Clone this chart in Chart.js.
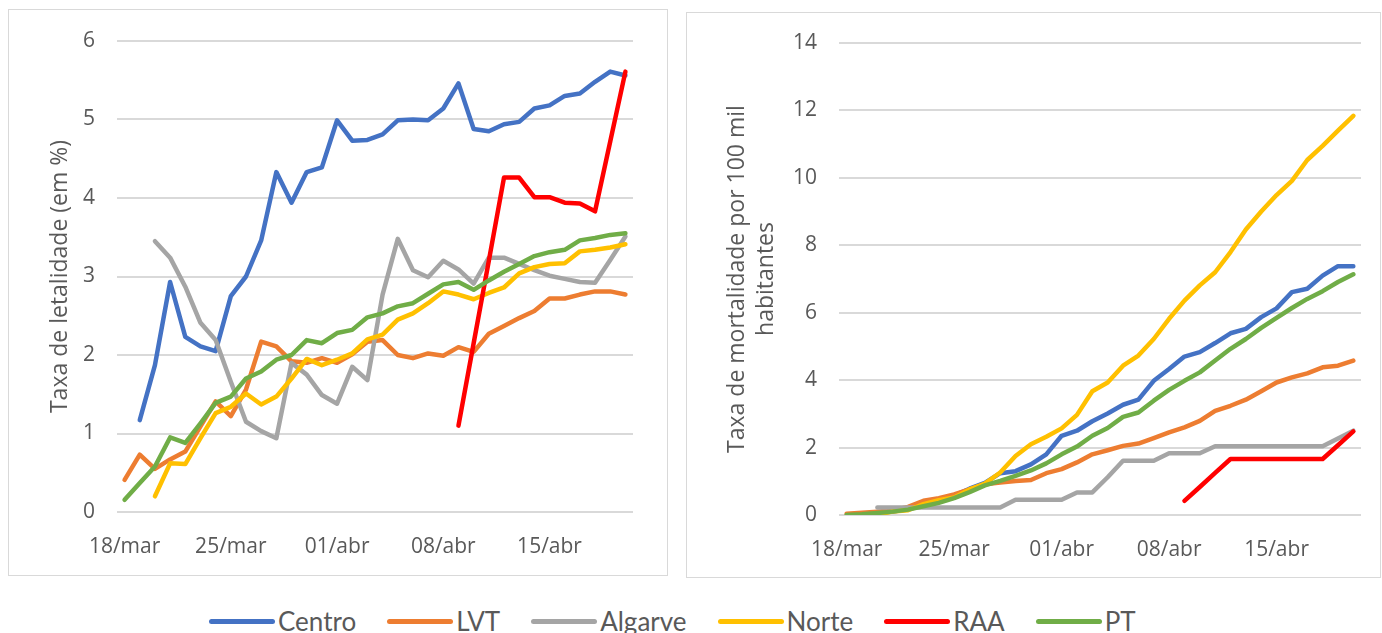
<!DOCTYPE html>
<html>
<head>
<meta charset="utf-8">
<script src="https://cdn.jsdelivr.net/npm/chart.js@4.4.1/dist/chart.umd.min.js"></script>
<style>
  html, body { margin: 0; padding: 0; background: #fff; }
  body { width: 1382px; height: 633px; position: relative; overflow: hidden; font-family: 'Open Sans', sans-serif; }
  .panel { position: absolute; border: 1px solid #d9d9d9; box-sizing: border-box; background: #fff; }
  .panel canvas { display: block; }
  #legend { position: absolute; left: 209px; top: 605px; display: flex; align-items: center; gap: 31px;
            font-family: Lato, 'Liberation Sans', sans-serif; font-size: 26px; color: #595959; white-space: nowrap; }
  .item { display: flex; align-items: center; }
  .swatch { width: 66px; height: 5px; border-radius: 3px; margin-right: 3px; }
</style>
</head>
<body>
<div class="panel" style="left:8px; top:9px; width:660px; height:567px;">
  <canvas id="letalidade" width="658" height="565"></canvas>
</div>
<div class="panel" style="left:686px; top:12px; width:695px; height:566px;">
  <canvas id="mortalidade" width="693" height="564"></canvas>
</div>
<div id="legend"></div>

<script>
const days = ['18/mar', '19/mar', '20/mar', '21/mar', '22/mar', '23/mar', '24/mar', '25/mar', '26/mar', '27/mar',
    '28/mar', '29/mar', '30/mar', '31/mar', '01/abr', '02/abr', '03/abr', '04/abr', '05/abr', '06/abr',
    '07/abr', '08/abr', '09/abr', '10/abr', '11/abr', '12/abr', '13/abr', '14/abr', '15/abr', '16/abr',
    '17/abr', '18/abr', '19/abr', '20/abr'];
const tickDays = ['18/mar', '25/mar', '01/abr', '08/abr', '15/abr'];

const seriesNames = ['Centro', 'LVT', 'Algarve', 'Norte', 'RAA', 'PT'];
const seriesColors = ['#4472C4', '#ED7D31', '#A5A5A5', '#FFC000', '#FF0000', '#70AD47'];

// Taxa de letalidade (em %)
const centroLet = [null, 1.17, 1.87, 2.93, 2.23, 2.11, 2.05, 2.75, 3.0, 3.46, 4.33, 3.94, 4.33, 4.39, 4.99, 4.73, 4.74,
    4.81, 4.99, 5.0, 4.99, 5.14, 5.46, 4.88, 4.85, 4.94, 4.97, 5.14, 5.18, 5.30, 5.33, 5.48, 5.61, 5.56];
const lvtLet = [0.41, 0.73, 0.55, 0.67, 0.77, 1.09, 1.41, 1.22, 1.56, 2.17, 2.11, 1.92, 1.90, 1.96, 1.90, 2.01, 2.17,
    2.19, 2.0, 1.96, 2.02, 1.99, 2.10, 2.04, 2.27, 2.37, 2.47, 2.56, 2.72, 2.72, 2.77, 2.81, 2.81, 2.77];
const algarveLet = [null, null, 3.45, 3.24, 2.87, 2.41, 2.19, 1.66, 1.15, 1.03, 0.94, 1.90, 1.75, 1.49, 1.38, 1.85, 1.68,
    2.77, 3.48, 3.08, 2.99, 3.20, 3.09, 2.91, 3.24, 3.24, 3.16, 3.08, 3.01, 2.97, 2.93, 2.92, 3.21, 3.51];
const norteLet = [null, null, 0.20, 0.62, 0.61, 0.94, 1.26, 1.34, 1.51, 1.37, 1.47, 1.70, 1.95, 1.87, 1.94, 2.02, 2.20,
    2.26, 2.45, 2.53, 2.66, 2.81, 2.77, 2.71, 2.79, 2.86, 3.04, 3.12, 3.16, 3.17, 3.32, 3.34, 3.37, 3.41];
const raaLet = [null, null, null, null, null, null, null, null, null, null, null, null, null, null, null, null, null,
    null, null, null, null, null, 1.10, 2.15, 3.20, 4.26, 4.26, 4.01, 4.01, 3.94, 3.93, 3.83, 4.72, 5.61];
const ptLet = [0.155, 0.37, 0.58, 0.95, 0.88, 1.13, 1.39, 1.47, 1.70, 1.79, 1.94, 2.0, 2.19, 2.15, 2.28, 2.32, 2.48,
    2.53, 2.62, 2.66, 2.78, 2.90, 2.93, 2.83, 2.95, 3.06, 3.16, 3.26, 3.31, 3.34, 3.46, 3.49, 3.53, 3.55];

// Taxa de mortalidade por 100 mil habitantes
const centroMort = [null, 0.03, 0.06, 0.1, 0.18, 0.32, 0.45, 0.58, 0.78, 0.95, 1.24, 1.3, 1.5, 1.8, 2.35, 2.50, 2.78,
    3.01, 3.27, 3.42, 3.98, 4.33, 4.70, 4.83, 5.10, 5.39, 5.52, 5.87, 6.13, 6.61, 6.71, 7.1, 7.38, 7.38];
const lvtMort = [0.04, 0.07, 0.1, 0.14, 0.24, 0.42, 0.5, 0.61, 0.76, 0.91, 0.96, 1.01, 1.04, 1.24, 1.36, 1.56, 1.80,
    1.92, 2.05, 2.12, 2.28, 2.45, 2.60, 2.79, 3.09, 3.24, 3.42, 3.67, 3.93, 4.08, 4.20, 4.38, 4.43, 4.58];
const algarveMort = [null, null, 0.22, 0.22, 0.22, 0.22, 0.22, 0.22, 0.22, 0.22, 0.22, 0.45, 0.45, 0.45, 0.45, 0.67, 0.67,
    1.12, 1.61, 1.61, 1.61, 1.83, 1.83, 1.83, 2.04, 2.04, 2.04, 2.04, 2.04, 2.04, 2.04, 2.04, 2.27, 2.50];
const norteMort = [null, null, 0.02, 0.1, 0.14, 0.32, 0.44, 0.52, 0.76, 0.93, 1.26, 1.75, 2.1, 2.32, 2.57, 2.97, 3.67,
    3.93, 4.43, 4.73, 5.22, 5.82, 6.36, 6.81, 7.2, 7.8, 8.47, 9.0, 9.49, 9.91, 10.53, 10.95, 11.4, 11.84];
const raaMort = [null, null, null, null, null, null, null, null, null, null, null, null, null, null, null, null, null,
    null, null, null, null, null, 0.42, 0.83, 1.25, 1.66, 1.66, 1.66, 1.66, 1.66, 1.66, 1.66, 2.07, 2.48];
const ptMort = [0.0, 0.02, 0.06, 0.1, 0.16, 0.26, 0.36, 0.5, 0.68, 0.88, 1.01, 1.16, 1.32, 1.53, 1.80, 2.03, 2.35,
    2.58, 2.91, 3.04, 3.39, 3.71, 3.98, 4.23, 4.58, 4.93, 5.22, 5.55, 5.85, 6.14, 6.41, 6.64, 6.91, 7.14];

const tickFont = { family: "'Open Sans', sans-serif", size: 21 };
const titleFont = { family: "'Open Sans', sans-serif", size: 23, lineHeight: 1.25 };
const textColor = '#595959';

function makeDatasets(series) {
    // last series (PT) is drawn on top, like in the original sheet
    return series.map((values, i) => ({
        label: seriesNames[i],
        data: values,
        borderColor: seriesColors[i],
        backgroundColor: seriesColors[i],
        borderWidth: 4.5,
        pointRadius: 0,
        pointHoverRadius: 0,
        tension: 0,
        spanGaps: true,
        fill: false,
        borderCapStyle: 'round',
        borderJoinStyle: 'round',
        order: series.length - i
    }));
}

function makeOptions(cfg) {
    return {
        responsive: false,
        animation: false,
        events: [],
        layout: { padding: { left: cfg.padLeft, right: cfg.padRight, top: cfg.padTop, bottom: cfg.padBottom } },
        plugins: { legend: { display: false }, tooltip: { enabled: false } },
        scales: {
            x: {
                type: 'category',
                offset: true,
                grid: { display: false },
                border: { display: false },
                ticks: {
                    autoSkip: false,
                    maxRotation: 0,
                    padding: 14,
                    color: textColor,
                    font: tickFont,
                    callback: function (value) {
                        const label = this.getLabelForValue(value);
                        return tickDays.includes(label) ? label : '';
                    }
                },
                afterFit: scale => { scale.height = 60; }
            },
            y: {
                min: 0,
                max: cfg.max,
                ticks: { stepSize: cfg.step, padding: 22, color: textColor, font: tickFont },
                grid: { color: '#d9d9d9', lineWidth: 2, drawTicks: false },
                border: { display: false },
                title: {
                    display: true,
                    text: cfg.title,
                    color: textColor,
                    font: titleFont,
                    padding: { top: cfg.titlePad, bottom: 0 }
                },
                afterFit: scale => {
                    scale.width = cfg.axisWidth;
                    // keep the plot top where the layout padding puts it
                    scale.paddingTop = 0;
                    scale.paddingBottom = 0;
                }
            }
        }
    };
}

new Chart(document.getElementById('letalidade'), {
    type: 'line',
    data: {
        labels: days,
        datasets: makeDatasets([centroLet, lvtLet, algarveLet, norteLet, raaLet, ptLet])
    },
    options: makeOptions({
        max: 6, step: 1, title: 'Taxa de letalidade (em %)',
        axisWidth: 100, titlePad: 29, padLeft: 8, padRight: 34, padTop: 31, padBottom: 3
    })
});

new Chart(document.getElementById('mortalidade'), {
    type: 'line',
    data: {
        labels: days,
        datasets: makeDatasets([centroMort, lvtMort, algarveMort, norteMort, raaMort, ptMort])
    },
    options: makeOptions({
        max: 14, step: 2, title: ['Taxa de mortalidade por 100 mil', 'habitantes'],
        axisWidth: 142, titlePad: 26, padLeft: 10, padRight: 19, padTop: 30, padBottom: 2
    })
});

// shared legend under both panels
const legend = document.getElementById('legend');
seriesNames.forEach((name, i) => {
    const item = document.createElement('div');
    item.className = 'item';
    const swatch = document.createElement('span');
    swatch.className = 'swatch';
    swatch.style.background = seriesColors[i];
    const text = document.createElement('span');
    text.textContent = name;
    item.appendChild(swatch);
    item.appendChild(text);
    legend.appendChild(item);
});
</script>
</body>
</html>
